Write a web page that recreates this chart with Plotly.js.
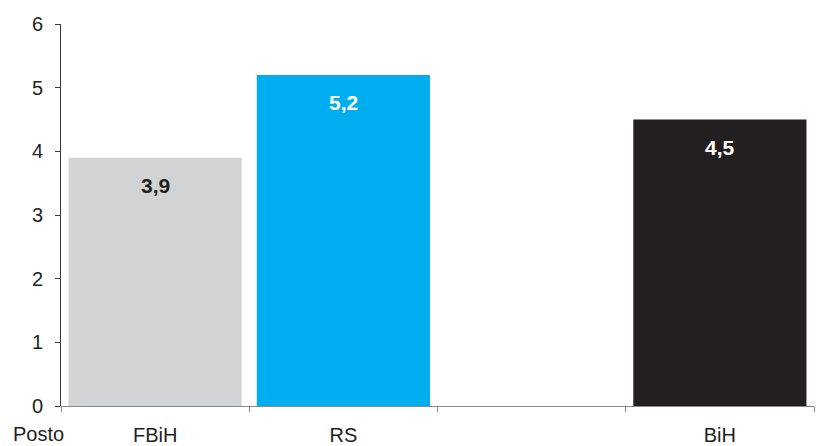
<!DOCTYPE html>
<html>
<head>
<meta charset="utf-8">
<script src="https://cdn.plot.ly/plotly-3.0.1.min.js"></script>
<style>
  html, body { margin: 0; padding: 0; background: #fff; }
  #chart { width: 818px; height: 446px; }
</style>
</head>
<body>
<div id="chart"></div>
<script>
// Regions and their values (the third slot is an intentional empty gap)
var categories = ['FBiH', 'RS', ' ', 'BiH'];
var values = [3.9, 5.2, null, 4.5];
var barColors = ['#d1d3d4', '#00aeef', '#ffffff', '#231f20'];
var labelColors = ['#231f20', '#ffffff', '#ffffff', '#ffffff'];
var yTicks = [0, 1, 2, 3, 4, 5, 6];
var unitLabel = 'Posto';

var FONT = 'Liberation Sans, Arial, Helvetica, sans-serif';

function fmt(v) {
  return v.toFixed(1).replace('.', ',');
}

var trace = {
  type: 'bar',
  x: categories,
  y: values,
  marker: { color: barColors, line: { width: 0 } },
  hoverinfo: 'none'
};

// Value labels placed just inside the top of each bar
var annotations = [];
categories.forEach(function (c, i) {
  if (values[i] === null) return;
  annotations.push({
    x: c, y: values[i], xref: 'x', yref: 'y',
    text: '<b>' + fmt(values[i]) + '</b>',
    showarrow: false, xanchor: 'center', yanchor: 'middle',
    yshift: -28,
    font: { family: FONT, size: 21, color: labelColors[i] }
  });
});

// Unit label at the lower-left corner, level with the category labels
annotations.push({
  x: -0.0305, y: -0.105, xref: 'paper', yref: 'paper',
  text: unitLabel, showarrow: false,
  xanchor: 'center', yanchor: 'bottom', borderpad: 0,
  font: { family: FONT, size: 20, color: '#231f20' }
});

var layout = {
  width: 818, height: 446,
  margin: { l: 61, r: 4, t: 24, b: 40, pad: 0 },
  paper_bgcolor: '#ffffff', plot_bgcolor: '#ffffff',
  showlegend: false,
  bargap: 0.08,
  font: { family: FONT, size: 20, color: '#231f20' },
  xaxis: {
    type: 'category',
    range: [-0.5, 3.5],
    showgrid: false, zeroline: false,
    showline: true, linecolor: '#8a8a8a', linewidth: 1,
    ticks: 'outside', tickson: 'boundaries', ticklen: 5, tickcolor: '#8a8a8a',
    ticklabelstandoff: 11,
    tickfont: { family: FONT, size: 20, color: '#231f20' },
    fixedrange: true
  },
  yaxis: {
    range: [0, 6],
    tickvals: yTicks,
    ticktext: yTicks.map(String),
    showgrid: false, zeroline: false,
    showline: true, linecolor: '#3a3a3a', linewidth: 1,
    ticks: 'outside', ticklen: 5, tickcolor: '#3a3a3a',
    ticklabelstandoff: 8,
    tickfont: { family: FONT, size: 20, color: '#231f20' },
    fixedrange: true
  },
  annotations: annotations
};

Plotly.newPlot('chart', [trace], layout, { displayModeBar: false, staticPlot: true });
</script>
</body>
</html>
